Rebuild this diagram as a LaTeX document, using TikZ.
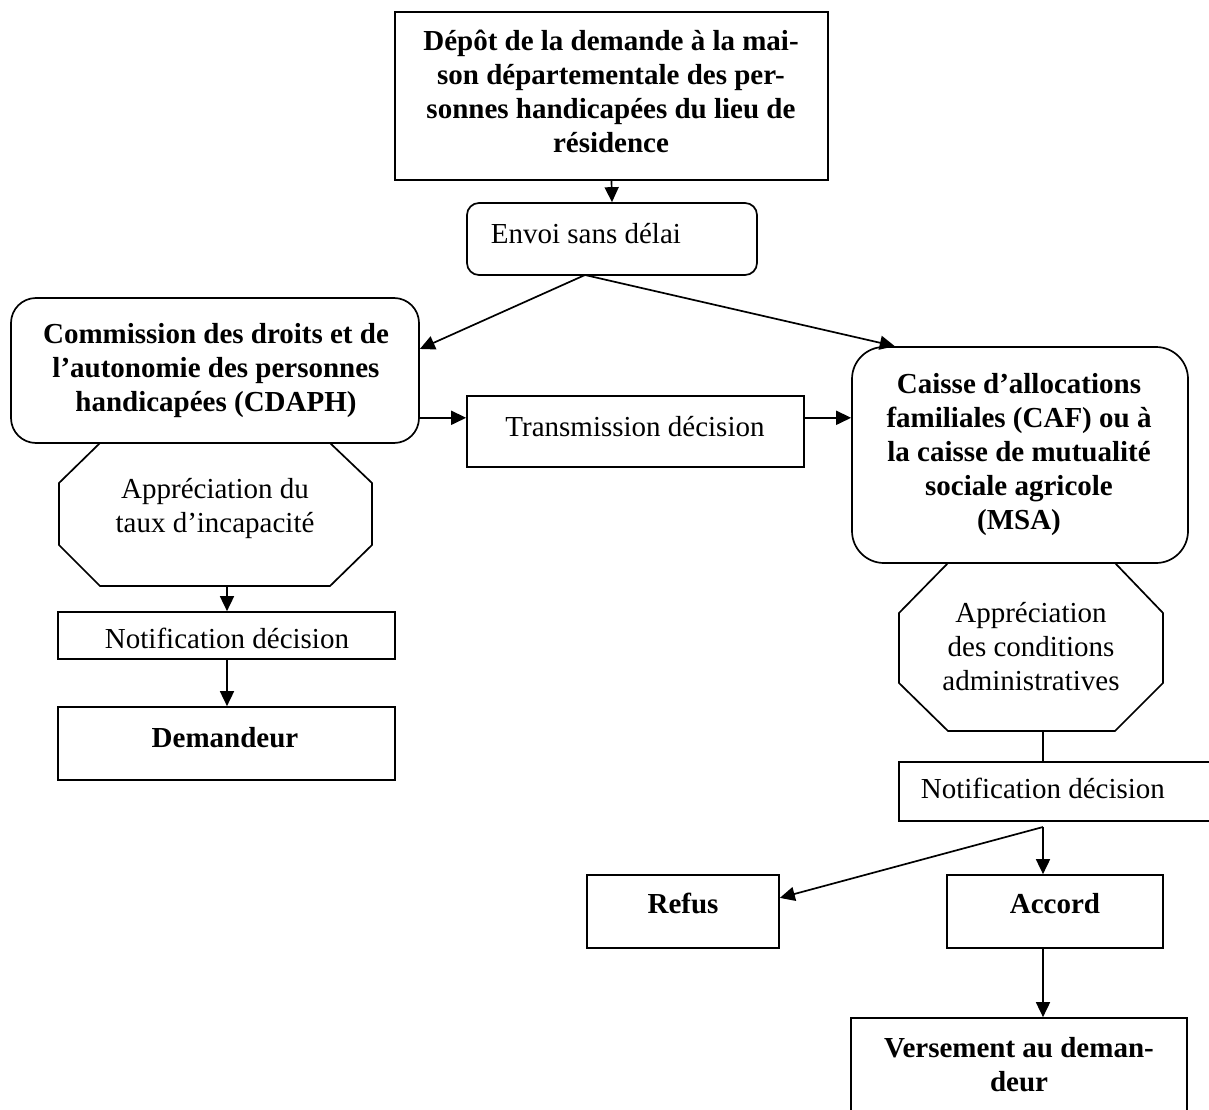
\documentclass[tikz,border=0pt]{standalone}
\usepackage{fontspec}
\setmainfont{Liberation Serif}
\usetikzlibrary{arrows.meta,fit}
\begin{document}
\begin{tikzpicture}[x=1pt,y=-1pt,line width=1.7pt,
  box/.style={draw,rectangle,inner sep=0pt},
  rbox/.style={draw,rectangle,inner sep=0pt,rounded corners=#1},
  txt/.style={inner sep=0pt,align=center,anchor=north,font=\fontsize{29}{34}\selectfont},
  btxt/.style={txt,font=\fontsize{29}{34}\selectfont\bfseries},
  arr/.style={-{Triangle[length=15pt,width=14pt]}}]
\useasboundingbox (0,0) rectangle (1209,1110);
\clip (0,0) rectangle (1209,1110);
% boxes
\node[box,fit={(395,12) (828,180)}] (depot) {};
\node[rbox=12pt,fit={(467,203) (757,275)}] (envoi) {};
\node[rbox=25pt,fit={(11,298) (419,443)}] (cdaph) {};
\node[box,fit={(467,396) (804,467)}] (trans) {};
\node[rbox=32pt,fit={(852,347) (1188,563)}] (caf) {};
\node[box,fit={(58,612) (395,659)}] (notifL) {};
\node[box,fit={(58,707) (395,780)}] (dem) {};
\node[box,fit={(899,762) (1220,821)}] (notifR) {};
\node[box,fit={(587,875) (779,948)}] (refus) {};
\node[box,fit={(947,875) (1163,948)}] (accord) {};
\node[box,fit={(851,1018) (1187,1130)}] (vers) {};
% octagons
\draw (100,443)--(330,443)--(372,483)--(372,545)--(330,586)--(100,586)--(59,545)--(59,483)--cycle;
\draw (948,563)--(1115,563)--(1163,613)--(1163,683)--(1115,731)--(948,731)--(899,683)--(899,613)--cycle;
\coordinate (oct1b) at (227,586);
\coordinate (oct2b) at (1043,731);
\coordinate (split1) at (585,275);
\coordinate (split2) at (1043,827);
% texts
\node[btxt] (tdepot) at (611,26) {\strut Dépôt de la demande à la mai-\\\strut son départementale des per-\\\strut sonnes handicapées du lieu de\\\strut résidence};
\node[txt,anchor=base west] (tenvoi) at (490,243) {Envoi sans délai};
\node[btxt] (tcdaph) at (216,319) {\strut Commission des droits et de\\\strut l’autonomie des personnes\\\strut handicapées (CDAPH)};
\node[txt] (toct1) at (215,474) {\strut Appréciation du\\\strut taux d’incapacité};
\node[txt,anchor=base] (ttrans) at (635,436) {Transmission décision};
\node[btxt] (tcaf) at (1019,369) {\strut Caisse d’allocations\\\strut familiales (CAF) ou à\\\strut la caisse de mutualité\\\strut sociale agricole\\\strut (MSA)};
\node[txt] (toct2) at (1031,598) {\strut Appréciation\\\strut des conditions\\\strut administratives};
\node[txt,anchor=base] (tnotifL) at (227,648) {Notification décision};
\node[btxt,anchor=base] (tdem) at (225,747) {Demandeur};
\node[txt,anchor=base west] (tnotifR) at (920,798) {Notification décision};
\node[btxt,anchor=base] (trefus) at (683,913) {Refus};
\node[btxt,anchor=base] (taccord) at (1055,913) {Accord};
\node[btxt] (tvers) at (1019,1033) {\strut Versement au deman-\\\strut deur};
% connectors
\draw[arr] (depot.south) -- (envoi.north);
\draw[arr] (split1) -- (cdaph.6.6);
\draw[arr] (split1) -- (caf.139.6);
\draw[arr] (cdaph.-13.4) -- (cdaph.-13.4 -| trans.west);
\draw[arr] (cdaph.-13.4 -| trans.east) -- (cdaph.-13.4 -| caf.west);
\draw[arr] (oct1b) -- (oct1b |- notifL.north);
\draw[arr] (oct1b |- notifL.south) -- (oct1b |- dem.north);
\draw (oct2b) -- (oct2b |- notifR.north);
\draw[arr] (split2) -- (split2 |- accord.north);
\draw[arr] (split2) -- (refus.8.6);
\draw[arr] (split2 |- accord.south) -- (split2 |- vers.north);
\end{tikzpicture}
\end{document}
